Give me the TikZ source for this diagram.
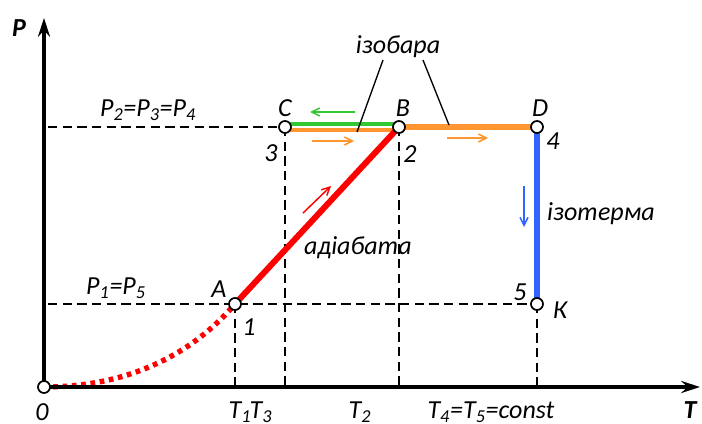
\documentclass[tikz,border=0pt]{standalone}
\usepackage{fontspec}
\setmainfont{Carlito}
\usetikzlibrary{arrows.meta}
\definecolor{cred}{RGB}{255,0,0}
\definecolor{cgreen}{RGB}{50,200,50}
\definecolor{corange}{RGB}{255,150,50}
\definecolor{cblue}{RGB}{50,100,255}
\newcommand{\sbs}[1]{\textsubscript{#1}}
\begin{document}
\begin{tikzpicture}[x=0.75pt,y=-0.75pt,
  lbl/.style={font=\fontsize{19.5}{21}\selectfont\itshape, inner sep=0pt},
  axlbl/.style={font=\fontsize{19.5}{21}\selectfont\bfseries\itshape, inner sep=0pt},
  axis/.style={line width=3pt, -{Stealth[length=14pt,width=9pt]}},
  guide/.style={line width=1.1pt, dash pattern=on 7pt off 4pt},
  pt/.style={circle, draw=black, fill=white, line width=1.3pt, minimum size=9pt, inner sep=0pt},
  small/.style={line width=1.1pt, -{Straight Barb[length=6pt,width=6pt]}},
  leader/.style={line width=1pt}]
\useasboundingbox (0,0) rectangle (702,424);
% coordinates
\coordinate (O) at (44,387);
\coordinate (Ytop) at (44,18);
\coordinate (Xend) at (700,387);
\coordinate (Pa) at (235,304);
\coordinate (Pc) at (285,127);
\coordinate (Pb) at (399,127);
\coordinate (Pd) at (537,127);
\coordinate (Pk) at (537,304);
\coordinate (Yhi) at (48,127);
\coordinate (Ylo) at (48,304);
\coordinate (Xa) at (235,387);
\coordinate (Xc) at (285,387);
\coordinate (Xb) at (399,387);
\coordinate (Xk) at (537,387);
% guides
\draw[guide] (Yhi) -- (Pc);
\draw[guide] (Ylo) -- (Pk);
\draw[guide] (Pa) -- (Xa);
\draw[guide] (Pc) -- (Xc);
\draw[guide] (Pb) -- (Xb);
\draw[guide] (Pk) -- (Xk);
% process lines
\draw[cred, line width=4pt, dash pattern=on 3.5pt off 3.5pt] (O) .. controls (140,387) and (200,345) .. (Pa);
\draw[cgreen, line width=3.2pt] ([yshift=2.5pt]Pc) -- ([yshift=2.5pt]Pb);
\draw[corange, line width=3.2pt] ([yshift=-2.5pt]Pc) -- ([yshift=-2.5pt]Pb);
\draw[corange, line width=4.5pt] (Pb) -- (Pd);
\draw[cred, line width=4.5pt] (Pa) -- (Pb);
\draw[cblue, line width=4pt] (Pd) -- (Pk);
% axes
\draw[axis] (O) -- (Ytop);
\draw[axis] (O) -- (Xend);
% points
\node[pt] (nO) at (O) {};
\node[pt] (nA) at (Pa) {};
\node[pt] (nC) at (Pc) {};
\node[pt] (nB) at (Pb) {};
\node[pt] (nD) at (Pd) {};
\node[pt] (nK) at (Pk) {};
% small direction arrows
\coordinate (g1) at (355,112); \coordinate (g2) at (310,112);
\draw[small, cgreen] (g1) -- (g2);
\coordinate (o1) at (312,141); \coordinate (o2) at (354,141);
\draw[small, corange] (o1) -- (o2);
\coordinate (o3) at (447,138); \coordinate (o4) at (488,138);
\draw[small, corange] (o3) -- (o4);
\coordinate (r1) at (303,213); \coordinate (r2) at (331,186);
\draw[small, cred] (r1) -- (r2);
\coordinate (b1) at (524,186); \coordinate (b2) at (524,227);
\draw[small, cblue] (b1) -- (b2);
% labels
\node[axlbl] (lP) at (19,28) {P};
\node[axlbl] (lT) at (690,410) {T};
\node[lbl] (lizob) at (398,47) {ізобара};
\coordinate (lead1) at (357,132);
\coordinate (lead2) at (449,125);
\draw[leader] (383,60) -- (lead1);
\draw[leader] (423,60) -- (lead2);
\node[lbl] (lad) at (358,248) {адіабата};
\node[lbl] (liz) at (601,214) {ізотерма};
\node[lbl] (lP234) at (148,110) {P\sbs{2}=P\sbs{3}=P\sbs{4}};
\node[lbl] (lP15) at (116,288) {P\sbs{1}=P\sbs{5}};
\node[lbl] (lC) at (285,108) {C};
\node[lbl] (lB) at (403,108) {B};
\node[lbl] (lD) at (540,108) {D};
\node[lbl] (l3) at (271,153) {3};
\node[lbl] (l2) at (410,154) {2};
\node[lbl] (l4) at (553,141) {4};
\node[lbl] (lA) at (219,289) {A};
\node[lbl] (l1) at (249,327) {1};
\node[lbl] (l5) at (520,292) {5};
\node[lbl] (lK) at (560,310) {К};
\node[lbl] (l0) at (42,412) {0};
\node[lbl] (lT1) at (240,412) {T\sbs{1}};
\node[lbl] (lT3) at (261,412) {T\sbs{3}};
\node[lbl] (lT2) at (360,412) {T\sbs{2}};
\node[lbl] (lT45) at (491,412) {T\sbs{4}=T\sbs{5}=const};
\end{tikzpicture}
\end{document}
